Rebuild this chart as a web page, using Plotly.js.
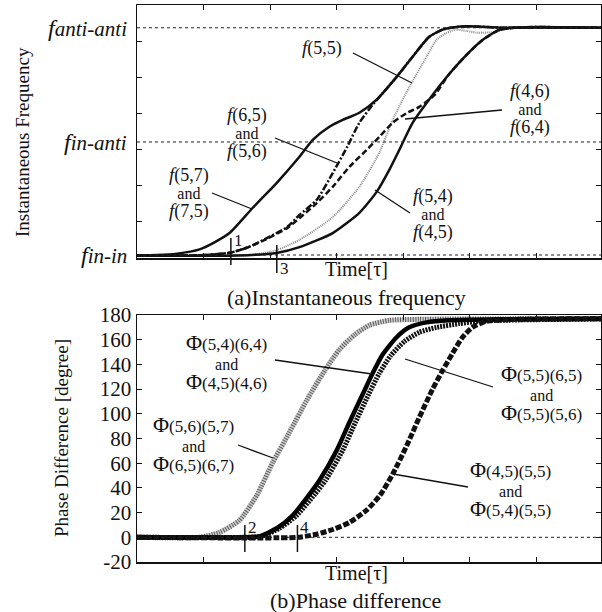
<!DOCTYPE html>
<html><head><meta charset="utf-8">
<script src="https://cdn.plot.ly/plotly-3.0.1.min.js"></script>
<style>html,body{margin:0;padding:0;background:#fff}</style>
</head><body><div id="chart" style="width:602px;height:612px"></div>
<script>
// ---------- DATA (time in units of tau) ----------
// (a) Instantaneous frequency (arbitrary frequency units)
const tF57 = [0, 0.3, 0.6, 0.94, 1.15, 1.39, 1.74, 2.10, 2.44, 2.64, 2.89, 3.09, 3.34, 3.60, 3.90, 4.14, 4.39, 4.59, 4.74, 5.0, 5.5, 6.0, 6.97];
const f57  = [0.07, 0.08, 0.12, 0.24, 0.42, 0.69, 1.39, 2.08, 2.80, 3.27, 3.63, 3.82, 4.02, 4.38, 5.01, 5.57, 6.12, 6.32, 6.38, 6.41, 6.37, 6.39, 6.37];
const tF65 = [0, 1.0, 1.41, 1.70, 1.95, 2.25, 2.44, 2.70, 2.94, 3.15, 3.34, 3.54, 3.70, 3.90, 4.14, 4.39, 4.59, 4.74, 5.0, 5.5, 6.0, 6.97];
const f65  = [0.07, 0.08, 0.15, 0.32, 0.55, 0.85, 1.19, 1.61, 2.35, 3.05, 3.74, 4.24, 4.58, 5.01, 5.57, 6.12, 6.32, 6.38, 6.41, 6.37, 6.39, 6.37];
const tF46 = [0, 1.0, 1.41, 1.70, 1.95, 2.25, 2.44, 2.70, 2.94, 3.19, 3.45, 3.64, 3.84, 4.05, 4.24, 4.47, 4.69, 4.95, 5.19, 5.44, 5.67, 6.0, 6.97];
const f46  = [0.07, 0.08, 0.15, 0.32, 0.53, 0.82, 1.10, 1.52, 1.97, 2.52, 2.99, 3.35, 3.74, 4.01, 4.18, 4.51, 5.09, 5.62, 6.03, 6.31, 6.37, 6.38, 6.37];
const tF55 = [0, 1.69, 2.10, 2.44, 2.94, 3.34, 3.64, 3.84, 4.09, 4.35, 4.50, 4.65, 4.80, 4.95, 5.14, 5.40, 5.55, 6.0, 6.97];
const f55  = [0.07, 0.08, 0.22, 0.50, 1.13, 1.97, 2.91, 3.82, 4.73, 5.57, 6.04, 6.23, 6.32, 6.28, 6.23, 6.26, 6.37, 6.37, 6.37];
const tF54 = [0, 1.5, 2.10, 2.44, 2.94, 3.34, 3.60, 3.79, 3.94, 4.14, 4.44, 4.69, 4.95, 5.19, 5.44, 5.67, 6.0, 6.97];
const f54  = [0.07, 0.07, 0.14, 0.30, 0.69, 1.25, 1.83, 2.44, 2.99, 3.74, 4.51, 5.09, 5.62, 6.03, 6.31, 6.37, 6.38, 6.37];
// reference frequency levels: f_in-in, f_in-anti, f_anti-anti
const freqLevelNames = ["in-in", "in-anti", "anti-anti"];
const freqLevels = [0.083, 3.21, 6.37];
// marker instants 1,3 (top) and 2,4 (bottom)
const markerNamesA = ["1", "3"];
const markerTimesA = [1.41, 2.10];
const markerNamesB = ["2", "4"];
const markerTimesB = [1.62, 2.41];

// (b) Phase difference (degree)
const tP57 = [0, 0.94, 1.24, 1.54, 1.80, 2.04, 2.29, 2.55, 2.82, 3.04, 3.27, 3.49, 3.79, 4.24, 6.97];
const p57  = [0, 0, 4, 13.8, 34, 60.7, 85, 111, 135, 152, 164, 171.7, 175.7, 176.5, 177];
const tP64 = [0, 1.62, 1.84, 2.10, 2.34, 2.59, 2.74, 3.00, 3.19, 3.39, 3.54, 3.69, 3.90, 4.09, 4.35, 4.69, 5.44, 6.97];
const p64  = [0, 0, 0.8, 7.3, 17.8, 34.8, 46, 70.4, 93, 115.8, 132.8, 148, 162, 170, 174, 175.7, 176.5, 177];
const tP65 = [0, 1.62, 1.87, 2.14, 2.40, 2.67, 2.83, 3.09, 3.28, 3.48, 3.64, 3.81, 4.02, 4.24, 4.50, 4.84, 5.14, 5.74, 6.97];
const p65  = [0, 0, 0.8, 7.3, 17.8, 34.8, 46, 70.4, 93, 115.8, 132.8, 147, 158.7, 166, 170, 173, 175, 176, 176.8];
const tP55 = [0, 2.41, 2.70, 2.95, 3.19, 3.45, 3.65, 3.84, 4.05, 4.24, 4.44, 4.59, 4.74, 4.89, 5.04, 5.25, 5.74, 6.97];
const p55  = [0, 0, 2.5, 6.5, 12, 22, 34, 51, 74, 97, 120, 135, 149, 162, 170, 175, 176.5, 177];
const phaseTicks = [-20, 0, 20, 40, 60, 80, 100, 120, 140, 160, 180];

// ---------- LAYOUT HELPERS ----------
const W = 602, H = 612;
const X = px => px / W;
const Y = py => 1 - py / H;
const FONT = "'Liberation Serif', 'Times New Roman', serif";
const tEnd = 6.97;

function tr(x, y, xa, ya, line) {
  return {x: x, y: y, xaxis: xa, yaxis: ya, type: 'scatter', mode: 'lines',
          line: Object.assign({shape: 'spline', smoothing: 0.6}, line),
          hoverinfo: 'skip', showlegend: false};
}

const data = [
  tr(tF55, f55, 'x', 'y', {color: '#8a8a8a', width: 2, dash: '1px,1px'}),
  tr(tF57, f57, 'x', 'y', {color: '#111', width: 2.5}),
  tr(tF54, f54, 'x', 'y', {color: '#111', width: 2.5}),
  tr(tF65, f65, 'x', 'y', {color: '#111', width: 2.5, dash: '7px,2px,2px,2px'}),
  tr(tF46, f46, 'x', 'y', {color: '#111', width: 2.5, dash: '6px,3px'}),
  tr(tP57, p57, 'x2', 'y2', {color: '#cfcfcf', width: 5}),
  tr(tP57, p57, 'x2', 'y2', {color: '#5a5a5a', width: 5, dash: '1px,1.5px'}),
  tr(tP65, p65, 'x2', 'y2', {color: '#111', width: 5, dash: '2px,1px'}),
  tr(tP64, p64, 'x2', 'y2', {color: '#000', width: 4.5}),
  tr(tP55, p55, 'x2', 'y2', {color: '#111', width: 5, dash: '6px,2px'})
];

const axBase = {showline: true, mirror: 'ticks', linecolor: '#111', linewidth: 1.5,
  ticks: 'inside', ticklen: 5, tickwidth: 1, tickcolor: '#111',
  showgrid: false, zeroline: false, fixedrange: true};

const xDom = [X(137), X(601)];
const layout = {
  width: W, height: H, paper_bgcolor: '#fff', plot_bgcolor: '#fff',
  margin: {l: 0, r: 0, t: 0, b: 0}, showlegend: false,
  font: {family: FONT, color: '#111'},
  xaxis: Object.assign({}, axBase, {domain: xDom, range: [0, tEnd], dtick: 1, tick0: 0, showticklabels: false, anchor: 'y'}),
  yaxis: Object.assign({}, axBase, {domain: [Y(258), Y(5)], range: [0, 7], dtick: 1, tick0: 0, showticklabels: false, anchor: 'x'}),
  xaxis2: Object.assign({}, axBase, {domain: xDom, range: [0, tEnd], dtick: 1, tick0: 0, showticklabels: false, anchor: 'y2'}),
  yaxis2: Object.assign({}, axBase, {domain: [Y(562), Y(315)], range: [-20, 180], tickvals: phaseTicks,
    ticktext: phaseTicks.map(String), tickfont: {family: FONT, size: 21, color: '#111'}, anchor: 'x2'}),
  shapes: [], annotations: []
};

// reference dotted lines
freqLevels.forEach(v => layout.shapes.push({type: 'line', xref: 'x', yref: 'y', x0: 0, x1: tEnd, y0: v, y1: v,
  line: {color: '#222', width: 1, dash: 'dot'}}));
layout.shapes.push({type: 'line', xref: 'x2', yref: 'y2', x0: 0, x1: tEnd, y0: 0, y1: 0,
  line: {color: '#222', width: 1, dash: 'dot'}});

// y labels for frequency levels
freqLevels.forEach((v, i) => layout.annotations.push({xref: 'paper', yref: 'y', x: X(129), y: v,
  xanchor: 'right', yanchor: 'middle', showarrow: false,
  text: '<i><span style="font-size:24px">f</span>' + freqLevelNames[i] + '</i>', font: {size: 21}}));

// event markers
function marker(t, name, xr, yTop, yBot, ly) {
  layout.shapes.push({type: 'line', xref: xr, yref: 'paper', x0: t, x1: t, y0: Y(yBot), y1: Y(yTop),
    line: {color: '#111', width: 1.5}});
  layout.annotations.push({xref: xr, yref: 'paper', x: t, y: Y(ly), xanchor: 'left', yanchor: 'middle',
    xshift: 1, showarrow: false, text: name, font: {size: 17}});
}
marker(markerTimesA[0], markerNamesA[0], 'x', 238, 265, 241);
marker(markerTimesA[1], markerNamesA[1], 'x', 245, 273, 268);
marker(markerTimesB[0], markerNamesB[0], 'x2', 525, 552, 527);
marker(markerTimesB[1], markerNamesB[1], 'x2', 525, 552, 527);

// curve labels with leader lines
const fl = s => '<i><span style="font-size:19px">f</span></i><span style="font-size:18px">' + s + '</span>';
const ph = s => '<span style="font-size:22px">Φ</span><span style="font-size:17px">' + s + '</span>';
const AND = '<span style="font-size:16px">and</span>';
function label(cx, cy, text, size) {
  layout.annotations.push({xref: 'paper', yref: 'paper', x: X(cx), y: Y(cy), xanchor: 'center', yanchor: 'middle',
    showarrow: false, text: text, font: {size: size || 14}});
}
function leader(x0, y0, x1, y1) {
  layout.shapes.push({type: 'line', xref: 'paper', yref: 'paper', x0: X(x0), y0: Y(y0), x1: X(x1), y1: Y(y1),
    line: {color: '#111', width: 1.3}});
}
label(189, 193, fl('(5,7)') + '<br>' + AND + '<br>' + fl('(7,5)'));  leader(212, 193, 252, 209);
label(247, 133, fl('(6,5)') + '<br>' + AND + '<br>' + fl('(5,6)'));  leader(275, 138, 337, 163);
label(322, 48, fl('(5,5)'));                                          leader(353, 53, 412, 83);
label(530, 109, fl('(4,6)') + '<br>' + AND + '<br>' + fl('(6,4)'));  leader(502, 110, 405, 119);
label(433, 214, fl('(5,4)') + '<br>' + AND + '<br>' + fl('(4,5)'));  leader(410, 213, 375, 190);

label(226, 362, ph('(5,4)(6,4)') + '<br>' + AND + '<br>' + ph('(4,5)(4,6)'), 15);  leader(275, 360, 372, 374);
label(193, 444, ph('(5,6)(5,7)') + '<br>' + AND + '<br>' + ph('(6,5)(6,7)'), 15);  leader(238, 445, 273, 458);
label(541, 393, ph('(5,5)(6,5)') + '<br>' + AND + '<br>' + ph('(5,5)(5,6)'), 15);  leader(493, 387, 405, 359);
label(510, 489, ph('(4,5)(5,5)') + '<br>' + AND + '<br>' + ph('(5,4)(5,5)'), 15);  leader(468, 487, 393, 474);

// axis titles and captions
label(356, 269, 'Time[τ]', 20);
label(346, 297, '(a)Instantaneous frequency', 22);
label(356, 573, 'Time[τ]', 20);
label(355, 600, '(b)Phase difference', 22);
layout.annotations.push({xref: 'paper', yref: 'paper', x: X(22), y: Y(142), xanchor: 'center', yanchor: 'middle',
  textangle: -90, showarrow: false, text: 'Instantaneous Frequency', font: {size: 19}});
layout.annotations.push({xref: 'paper', yref: 'paper', x: X(61), y: Y(438), xanchor: 'center', yanchor: 'middle',
  textangle: -90, showarrow: false, text: 'Phase Difference [degree]', font: {size: 19}});

Plotly.newPlot('chart', data, layout, {staticPlot: true, displayModeBar: false});
</script></body></html>
